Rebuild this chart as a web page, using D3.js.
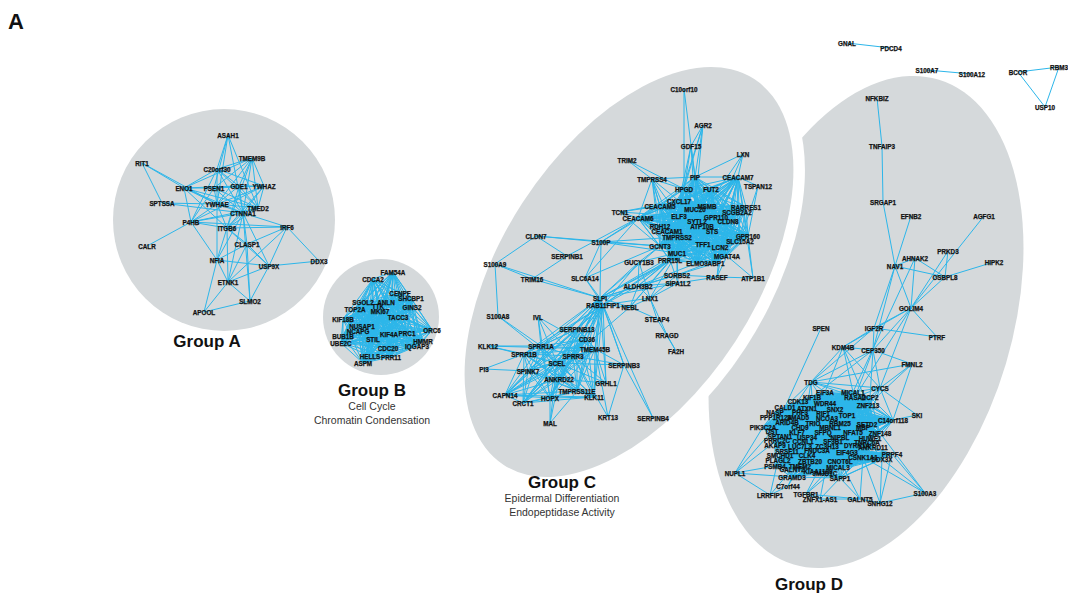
<!DOCTYPE html>
<html lang="en">
<head>
<meta charset="utf-8">
<title>Network groups A-D</title>
<script src="https://cdn.jsdelivr.net/npm/d3@7"></script>
<style>
  body { margin: 0; background: #fff; }
  svg { display: block; font-family: "Liberation Sans", Arial, Helvetica, sans-serif; }
  .group-bg { fill: #d5d9db; }
  .link { stroke: #2cb6ea; stroke-width: 1; fill: none; }
  .node-label { font-size: 6.3px; font-weight: bold; fill: #111; stroke: #111; stroke-width: 0.25px; text-anchor: middle; dominant-baseline: central; }
  .group-title { font-size: 17px; font-weight: bold; fill: #111; text-anchor: middle; }
  .group-sub { font-size: 10.5px; fill: #333; text-anchor: middle; }
</style>
</head>
<body>
<svg></svg>
<script>
// ---- data: node layout coordinates ----
var nodesA = [
  ["ASAH1",228,135],["RIT1",142,163],["TMEM9B",252,158],["C20orf30",217,169],
  ["ENO1",184,188],["PSEN1",214,188],["GDE1",239,186],["YWHAZ",264,186],
  ["SPTSSA",162,203],["YWHAE",217,204],["TMED2",258,208],["CTNNA1",243,213],
  ["P4HB",191,222],["ITGB6",227,228],["IRF6",287,227],["CLASP1",247,244],
  ["CALR",147,246],["NFIA",217,260],["USP9X",269,266],["DDX3",319,261],
  ["ETNK1",228,282],["SLMO2",250,301],["APOOL",204,312]
];
var nodesB = [
  ["FAM54A",393,272],["CDCA2",373,279],["CENPF",400,293],["SHCBP1",411,298],
  ["SGOL2",363,302],["ANLN",386,302],["TTK",378,306],["GINS2",412,307],
  ["TOP2A",355,309],["MKI67",380,311],["TACC3",398,317],["KIF18B",343,319],
  ["NUSAP1",362,326],["ORC6",432,330],["NCAPG",358,331],["KIF4A",389,334],
  ["PRC1",407,333],["BUB1B",343,336],["STIL",373,339],["UBE2C",341,343],
  ["HMMR",423,341],["IQGAP3",417,346],["CDC20",388,348],["HELLS",370,356],
  ["PRR11",391,357],["ASPM",363,363]
];
var nodesC = [
  ["C10orf10",684,89],["AGR2",703,125],["GDF15",691,146],["LXN",743,154],
  ["TRIM2",627,160],["PIP",695,177],["CEACAM7",738,177],["TMPRSS4",652,179],
  ["TSPAN12",758,186],["HPGD",684,189],["FUT2",711,189],["CXCL17",679,201],
  ["CEACAM5",660,206],["MSMB",707,206],["RARRES1",746,207],["MUC20",695,209],
  ["TCN1",620,212],["SCGB2A2",737,212],["ELF3",679,216],["GPR110",716,217],
  ["CEACAM6",638,218],["CLDN8",728,221],["SYTL2",697,221],["RDH12",660,226],
  ["ATP10B",702,226],["CEACAM1",667,231],["STS",712,231],["TMPRSS2",677,237],
  ["GPR160",748,236],["S100P",601,242],["SLC15A2",740,241],["GCNT3",660,246],
  ["TFF1",703,244],["LCN2",720,247],["CLDN7",536,236],["MUC1",677,253],
  ["MGAT4A",727,256],["SERPINB1",567,256],["GUCY1B3",639,262],["PRR15L",670,260],
  ["ELMO3",697,263],["ABP1",716,263],["S100A9",495,264],["TRIM16",532,279],
  ["SLC6A14",585,278],["SORBS2",677,275],["RASEF",717,277],["ATP1B1",753,278],
  ["SIPA1L2",678,283],["ALDH3B2",638,286],["LNX1",650,298],["SLPI",600,298],
  ["RAB11FIP1",603,305],["NEBL",630,307],["STEAP4",657,319],["S100A8",498,316],
  ["IVL",538,317],["SERPINB13",577,329],["RRAGD",667,335],["CD36",587,339],
  ["KLK12",488,346],["SPRR1A",541,346],["TMEM45B",595,349],["FA2H",676,351],
  ["SPRR1B",524,354],["SPRR3",573,356],["SCEL",557,363],["SERPINB3",624,365],
  ["PI3",484,369],["SPINK7",528,371],["ANKRD22",559,379],["GRHL1",606,383],
  ["CAPN14",505,395],["TMPRSS11E",577,391],["KLK11",594,397],["HOPX",550,398],
  ["CRCT1",523,403],["KRT13",608,417],["SERPINB4",653,418],["MAL",550,423]
];
var nodesD = [
  ["NFKBIZ",877,98],["TNFAIP3",882,146],["SRGAP1",883,202],["EFNB2",911,216],
  ["AGFG1",984,216],["PRKD3",948,251],["AHNAK2",915,258],["HIPK2",994,262],
  ["NAV1",895,266],["OSBPL8",945,277],["GOLIM4",911,308],["SPEN",821,328],
  ["IGF2R",874,328],["PTRF",937,337],["KDM4B",843,347],["CEP350",873,350],
  ["FMNL2",912,364],["TDG",811,382],["SKI",917,415],["S100A3",925,493],
  ["NUPL1",735,473],["LRRFIP1",770,495],["C7orf44",788,486],["TGFBR1",806,494],
  ["ZNFX1-AS1",820,499],["GALNT5",860,499],["SNHG12",880,503],
  ["EIF3A",825,392],["MICAL1",853,392],["CYCS",880,388],["KIF1B",812,397],
  ["RASA2",855,397],["DCP2",870,397],["CDK13",798,401],["WDR44",825,403],
  ["ZNF213",868,405],["CALD1",785,407],["ATXN1",807,408],["SNX2",835,409],
  ["NASP",775,412],["PHF3",800,412],["RIF1",823,413],["TOP1",847,415],
  ["PPP1R12A",776,417],["SMAD5",798,417],["NCOA3",827,418],["C14orf118",893,420],
  ["ARID4B",787,422],["TRIO",813,423],["RBM25",840,423],["SETD2",867,424],
  ["PIK3C2A",763,427],["CHD9",800,427],["MBNL1",830,427],["MBP",863,427],
  ["DST",772,431],["KLF7",797,432],["SFPQ",823,432],["NFAT5",853,432],
  ["ZNF148",880,433],["SPTAN1",780,436],["USP34",807,437],["NIPBL",840,437],
  ["HUWE1",870,438],["PRRC2C",777,440],["CCNL1",803,441],["SF3B1",833,441],
  ["TNRC6A",867,442],["AKAP9",775,445],["LUC7L3",800,446],["ZC3H13",827,446],
  ["DYRK1A",857,445],["ANKRD11",873,447],["SRSF11",787,451],["FNDC3A",817,450],
  ["EIF4G3",847,452],["SMCHD1",780,455],["CLK4",807,455],["CSNK1A1",863,457],
  ["PRPF4",892,454],["PLAGL2",778,460],["ZBTB20",810,461],["CNOT6L",840,461],
  ["DDX3X",882,459],["PSMB4",775,466],["TMEM2",800,466],["MICAL3",838,467],
  ["GALNT2",792,469],["KIAA1109",818,471],["JMJD1C",825,473],["GRAMD3",792,477],
  ["SAPP1",840,478]
];
var nodesOut = [
  ["GNAL",847,43],["PDCD4",891,48],["S100A7",927,70],["S100A12",972,74],
  ["BCOR",1018,72],["RBM3",1059,67],["USP10",1045,107]
];

// ---- data: edges (source, space separated targets) ----
var linksA = [
  ["ASAH1","C20orf30 PSEN1 YWHAE CTNNA1 TMED2"],
  ["RIT1","ENO1 SPTSSA YWHAE"],
  ["TMEM9B","C20orf30 PSEN1 GDE1 YWHAZ ENO1 CTNNA1 TMED2 YWHAE ITGB6"],
  ["C20orf30","ENO1 YWHAE CTNNA1 YWHAZ P4HB GDE1 TMED2"],
  ["ENO1","PSEN1 P4HB YWHAE CTNNA1 TMED2 GDE1 ITGB6"],
  ["PSEN1","GDE1 CTNNA1 YWHAE P4HB TMED2 YWHAZ"],
  ["GDE1","YWHAZ CTNNA1 YWHAE TMED2 ITGB6"],
  ["YWHAZ","TMED2 CTNNA1 YWHAE ITGB6 P4HB"],
  ["SPTSSA","CTNNA1 YWHAE"],
  ["YWHAE","P4HB CTNNA1 ITGB6 TMED2 NFIA"],
  ["TMED2","CTNNA1 P4HB ITGB6"],
  ["CTNNA1","P4HB ITGB6 IRF6 CLASP1 USP9X SLMO2 ETNK1 NFIA"],
  ["P4HB","ITGB6 CALR IRF6 NFIA"],
  ["ITGB6","IRF6 CLASP1 NFIA ETNK1 USP9X"],
  ["IRF6","CLASP1 USP9X DDX3 ETNK1"],
  ["CLASP1","NFIA USP9X SLMO2 ETNK1"],
  ["NFIA","USP9X ETNK1 APOOL"],
  ["USP9X","DDX3 ETNK1 SLMO2"],
  ["ETNK1","SLMO2 APOOL"],
  ["SLMO2","APOOL"]
];
var linksC = [
  ["C10orf10","PIP HPGD"],
  ["AGR2","PIP HPGD MUC20 CXCL17 GDF15"],
  ["GDF15","HPGD CXCL17 PIP MUC20"],
  ["LXN","PIP CEACAM7 GPR110 MSMB"],
  ["TRIM2","HPGD TMPRSS4"],
  ["TMPRSS4","CEACAM5 HPGD ELF3 GCNT3 CEACAM6 TMPRSS2 CXCL17 PIP CEACAM1 RDH12"],
  ["TSPAN12","CEACAM7 GPR160 SLC15A2"],
  ["TCN1","CEACAM5 CEACAM6 CXCL17 ELF3 GCNT3"],
  ["S100P","CEACAM6 GCNT3 CEACAM5 CLDN7 SLC6A14 SLPI TMPRSS2 MUC1"],
  ["CLDN7","S100A9 GCNT3 SERPINB1"],
  ["SERPINB1","TRIM16 CEACAM6"],
  ["S100A9","S100A8 TRIM16 SLPI"],
  ["TRIM16","SLPI"],
  ["SLC6A14","SLPI CEACAM6 GCNT3 RAB11FIP1"],
  ["GUCY1B3","SLPI ALDH3B2 MUC1 LNX1 GCNT3 RAB11FIP1"],
  ["ALDH3B2","SLPI RAB11FIP1 LNX1 SIPA1L2 SORBS2 MUC1 PRR15L NEBL ELMO3"],
  ["SORBS2","RASEF MGAT4A LNX1 SLPI MUC1 ABP1"],
  ["RASEF","ATP1B1 MGAT4A SIPA1L2 CEACAM7 LCN2"],
  ["ATP1B1","MGAT4A CEACAM7 GPR160"],
  ["SIPA1L2","LNX1 MUC1 SLPI PRR15L"],
  ["LNX1","STEAP4 NEBL RAB11FIP1 RRAGD MUC1"],
  ["STEAP4","NEBL FA2H"],
  ["RRAGD","FA2H"],
  ["NEBL","SLPI RAB11FIP1 SPRR3 MUC1 PRR15L"],
  ["S100A8","SPRR1A SCEL"],
  ["IVL","SPRR1A SPRR3 SCEL TMEM45B HOPX"],
  ["KLK12","SPRR1A SPRR1B SCEL TMEM45B"],
  ["PI3","SPRR1B SPINK7"],
  ["GRHL1","SPRR3 SCEL ANKRD22 SLPI RAB11FIP1 TMEM45B"],
  ["SERPINB3","SLPI SPRR3 TMEM45B SERPINB4 KRT13 SCEL RAB11FIP1"],
  ["KRT13","TMEM45B SPRR3"],
  ["SERPINB4","SLPI SERPINB3"],
  ["MAL","HOPX ANKRD22 TMPRSS11E SCEL"],
  ["SLPI","MUC1 GCNT3 PRR15L SORBS2 TFF1"],
  ["RAB11FIP1","MUC1 PRR15L"]
];
var linksD = [
  ["NFKBIZ","TNFAIP3"],["TNFAIP3","SRGAP1"],["SRGAP1","NAV1"],
  ["NAV1","EFNB2 OSBPL8 GOLIM4 IGF2R CEP350 AHNAK2"],
  ["AGFG1","GOLIM4"],["PRKD3","GOLIM4 OSBPL8"],
  ["AHNAK2","OSBPL8 GOLIM4 MICAL1"],["HIPK2","OSBPL8"],["OSBPL8","GOLIM4"],
  ["GOLIM4","IGF2R PTRF KDM4B CEP350 RASA2 CYCS"],
  ["IGF2R","PTRF TDG CEP350 KDM4B"],
  ["SPEN","CALD1"],
  ["KDM4B","CEP350 TDG MICAL1 CYCS ZNF213 EIF3A"],
  ["CEP350","CYCS TDG RASA2 DCP2 KIF1B"],
  ["FMNL2","TDG CYCS ZNF213 CEP350 C14orf118"],
  ["TDG","KIF1B EIF3A CDK13 CALD1 MICAL1 RASA2 WDR44 ATXN1 CYCS"],
  ["CYCS","ZNF213 DCP2 RASA2 C14orf118 SETD2 MICAL1"],
  ["SKI","C14orf118 CYCS"],
  ["S100A3","PRPF4 CSNK1A1 SNHG12 DDX3X ZNF148"],
  ["NUPL1","PIK3C2A PSMB4 GRAMD3 LRRFIP1 DST PRRC2C"],
  ["LRRFIP1","C7orf44 GALNT2 PLAGL2"],["C7orf44","GRAMD3 TMEM2"],
  ["TGFBR1","JMJD1C ZNFX1-AS1 GALNT5 KIAA1109 MICAL3"],
  ["ZNFX1-AS1","GALNT5 SAPP1 JMJD1C"],["GALNT5","SNHG12 SAPP1 CSNK1A1 CNOT6L"],
  ["SNHG12","CSNK1A1 PRPF4 DDX3X"],["JMJD1C","SAPP1"]
];
var linksOut = [["GNAL","PDCD4"],["S100A7","S100A12"],["BCOR","RBM3 USP10"],["RBM3","USP10"]];

// fully connected member lists (dense cores)
var cliques = [
  nodesB.map(function(d){ return d[0]; }),
  ["PIP","CEACAM7","HPGD","FUT2","CXCL17","CEACAM5","MSMB","RARRES1","MUC20","SCGB2A2",
   "ELF3","GPR110","CEACAM6","CLDN8","SYTL2","RDH12","ATP10B","CEACAM1","STS","TMPRSS2",
   "GPR160","SLC15A2","GCNT3","TFF1","LCN2","MUC1","PRR15L","ELMO3","ABP1","MGAT4A"],
  ["SPRR1A","SPRR1B","SPRR3","SCEL","SPINK7","ANKRD22","TMPRSS11E","KLK11","HOPX","CRCT1",
   "CAPN14","TMEM45B","CD36","SERPINB13","SLPI","RAB11FIP1"],
  ["EIF3A","MICAL1","KIF1B","RASA2","DCP2","CDK13","WDR44","ZNF213","CALD1","ATXN1","SNX2",
   "NASP","PHF3","RIF1","TOP1","PPP1R12A","SMAD5","NCOA3","C14orf118","ARID4B","TRIO","RBM25",
   "SETD2","PIK3C2A","CHD9","MBNL1","MBP","DST","KLF7","SFPQ","NFAT5","ZNF148","SPTAN1",
   "USP34","NIPBL","HUWE1","PRRC2C","CCNL1","SF3B1","TNRC6A","AKAP9","LUC7L3","ZC3H13",
   "DYRK1A","ANKRD11","SRSF11","FNDC3A","EIF4G3"],
  ["SRSF11","FNDC3A","EIF4G3","SMCHD1","CLK4","CSNK1A1","PRPF4","PLAGL2","ZBTB20","CNOT6L",
   "DDX3X","PSMB4","TMEM2","MICAL3","GALNT2","KIAA1109","JMJD1C","GRAMD3","SAPP1","AKAP9",
   "LUC7L3","ZC3H13","DYRK1A","ANKRD11"]
];

// group outlines (layout coordinates)
var circleA = { cx: 224, cy: 220, r: 111 };
var circleB = { cx: 381, cy: 317, r: 58 };
var ellipseC = { cx: 629, cy: 272, rx: 230, ry: 127, angle: -57 };
var ellipseD = { cx: 866, cy: 322, rx: 253, ry: 146, angle: -73.4 };
var gapCD = 12;

var titles = [
  { text: "Group A", x: 207, y: 347 },
  { text: "Group B", x: 372, y: 396 },
  { text: "Group C", x: 562, y: 488 },
  { text: "Group D", x: 809, y: 590 }
];
var subtitles = [
  { text: "Cell Cycle", x: 372, y: 410 },
  { text: "Chromatin Condensation", x: 372, y: 424 },
  { text: "Epidermal Differentiation", x: 562, y: 502 },
  { text: "Endopeptidase Activity", x: 562, y: 516 }
];

// ---- drawing ----
var width = 1068, height = 594;
var svg = d3.select("svg").attr("width", width).attr("height", height);
var x = d3.scaleLinear().domain([0, 1068]).range([0, width]);
var y = d3.scaleLinear().domain([0, 594]).range([0, height]);
var k = x(1) - x(0);

var allNodes = nodesA.concat(nodesB, nodesC, nodesD, nodesOut);
var pos = {};
allNodes.forEach(function(d){ pos[d[0]] = { x: x(d[1]), y: y(d[2]) }; });

var links = [];
var seen = {};
function addLink(a, b) {
  if (!pos[a] || !pos[b] || a === b) return;
  var key = a < b ? a + "|" + b : b + "|" + a;
  if (seen[key]) return;
  seen[key] = true;
  links.push([a, b]);
}
[linksA, linksC, linksD, linksOut].forEach(function(list){
  list.forEach(function(l){ l[1].split(" ").forEach(function(t){ addLink(l[0], t); }); });
});
cliques.forEach(function(members){
  for (var i = 0; i < members.length; i++)
    for (var j = i + 1; j < members.length; j++) addLink(members[i], members[j]);
});

function ellipseTransform(e) {
  return "translate(" + x(e.cx) + "," + y(e.cy) + ") rotate(" + e.angle + ")";
}

// mask: Group D minus a band around Group C (mask applied on an untransformed <g>)
var defs = svg.append("defs");
var mask = defs.append("mask").attr("id", "maskD")
  .attr("maskUnits", "userSpaceOnUse")
  .attr("x", 0).attr("y", 0).attr("width", width).attr("height", height);
mask.append("rect").attr("width", width).attr("height", height).attr("fill", "white");
mask.append("ellipse")
  .attr("transform", ellipseTransform(ellipseC))
  .attr("rx", (ellipseC.rx + gapCD) * k).attr("ry", (ellipseC.ry + gapCD) * k)
  .attr("fill", "black");

var bg = svg.append("g");
bg.append("circle").attr("class", "group-bg")
  .attr("cx", x(circleA.cx)).attr("cy", y(circleA.cy)).attr("r", circleA.r * k);
bg.append("circle").attr("class", "group-bg")
  .attr("cx", x(circleB.cx)).attr("cy", y(circleB.cy)).attr("r", circleB.r * k);
bg.append("ellipse").attr("class", "group-bg")
  .attr("transform", ellipseTransform(ellipseC))
  .attr("rx", ellipseC.rx * k).attr("ry", ellipseC.ry * k);
bg.append("g").attr("mask", "url(#maskD)")
  .append("ellipse").attr("class", "group-bg")
  .attr("transform", ellipseTransform(ellipseD))
  .attr("rx", ellipseD.rx * k).attr("ry", ellipseD.ry * k);

svg.append("g").selectAll("line")
  .data(links).enter().append("line")
  .attr("class", "link")
  .attr("x1", function(d){ return pos[d[0]].x; })
  .attr("y1", function(d){ return pos[d[0]].y; })
  .attr("x2", function(d){ return pos[d[1]].x; })
  .attr("y2", function(d){ return pos[d[1]].y; });

svg.append("g").selectAll("text")
  .data(allNodes).enter().append("text")
  .attr("class", "node-label")
  .attr("x", function(d){ return x(d[1]); })
  .attr("y", function(d){ return y(d[2]); })
  .text(function(d){ return d[0]; });

svg.append("g").selectAll("text")
  .data(titles).enter().append("text")
  .attr("class", "group-title")
  .attr("x", function(d){ return x(d.x); })
  .attr("y", function(d){ return y(d.y); })
  .text(function(d){ return d.text; });

svg.append("g").selectAll("text")
  .data(subtitles).enter().append("text")
  .attr("class", "group-sub")
  .attr("x", function(d){ return x(d.x); })
  .attr("y", function(d){ return y(d.y); })
  .text(function(d){ return d.text; });

svg.append("text")
  .attr("x", x(8)).attr("y", y(29))
  .style("font-size", "22px").style("font-weight", "bold").style("fill", "#111")
  .text("A");
</script>
</body>
</html>
